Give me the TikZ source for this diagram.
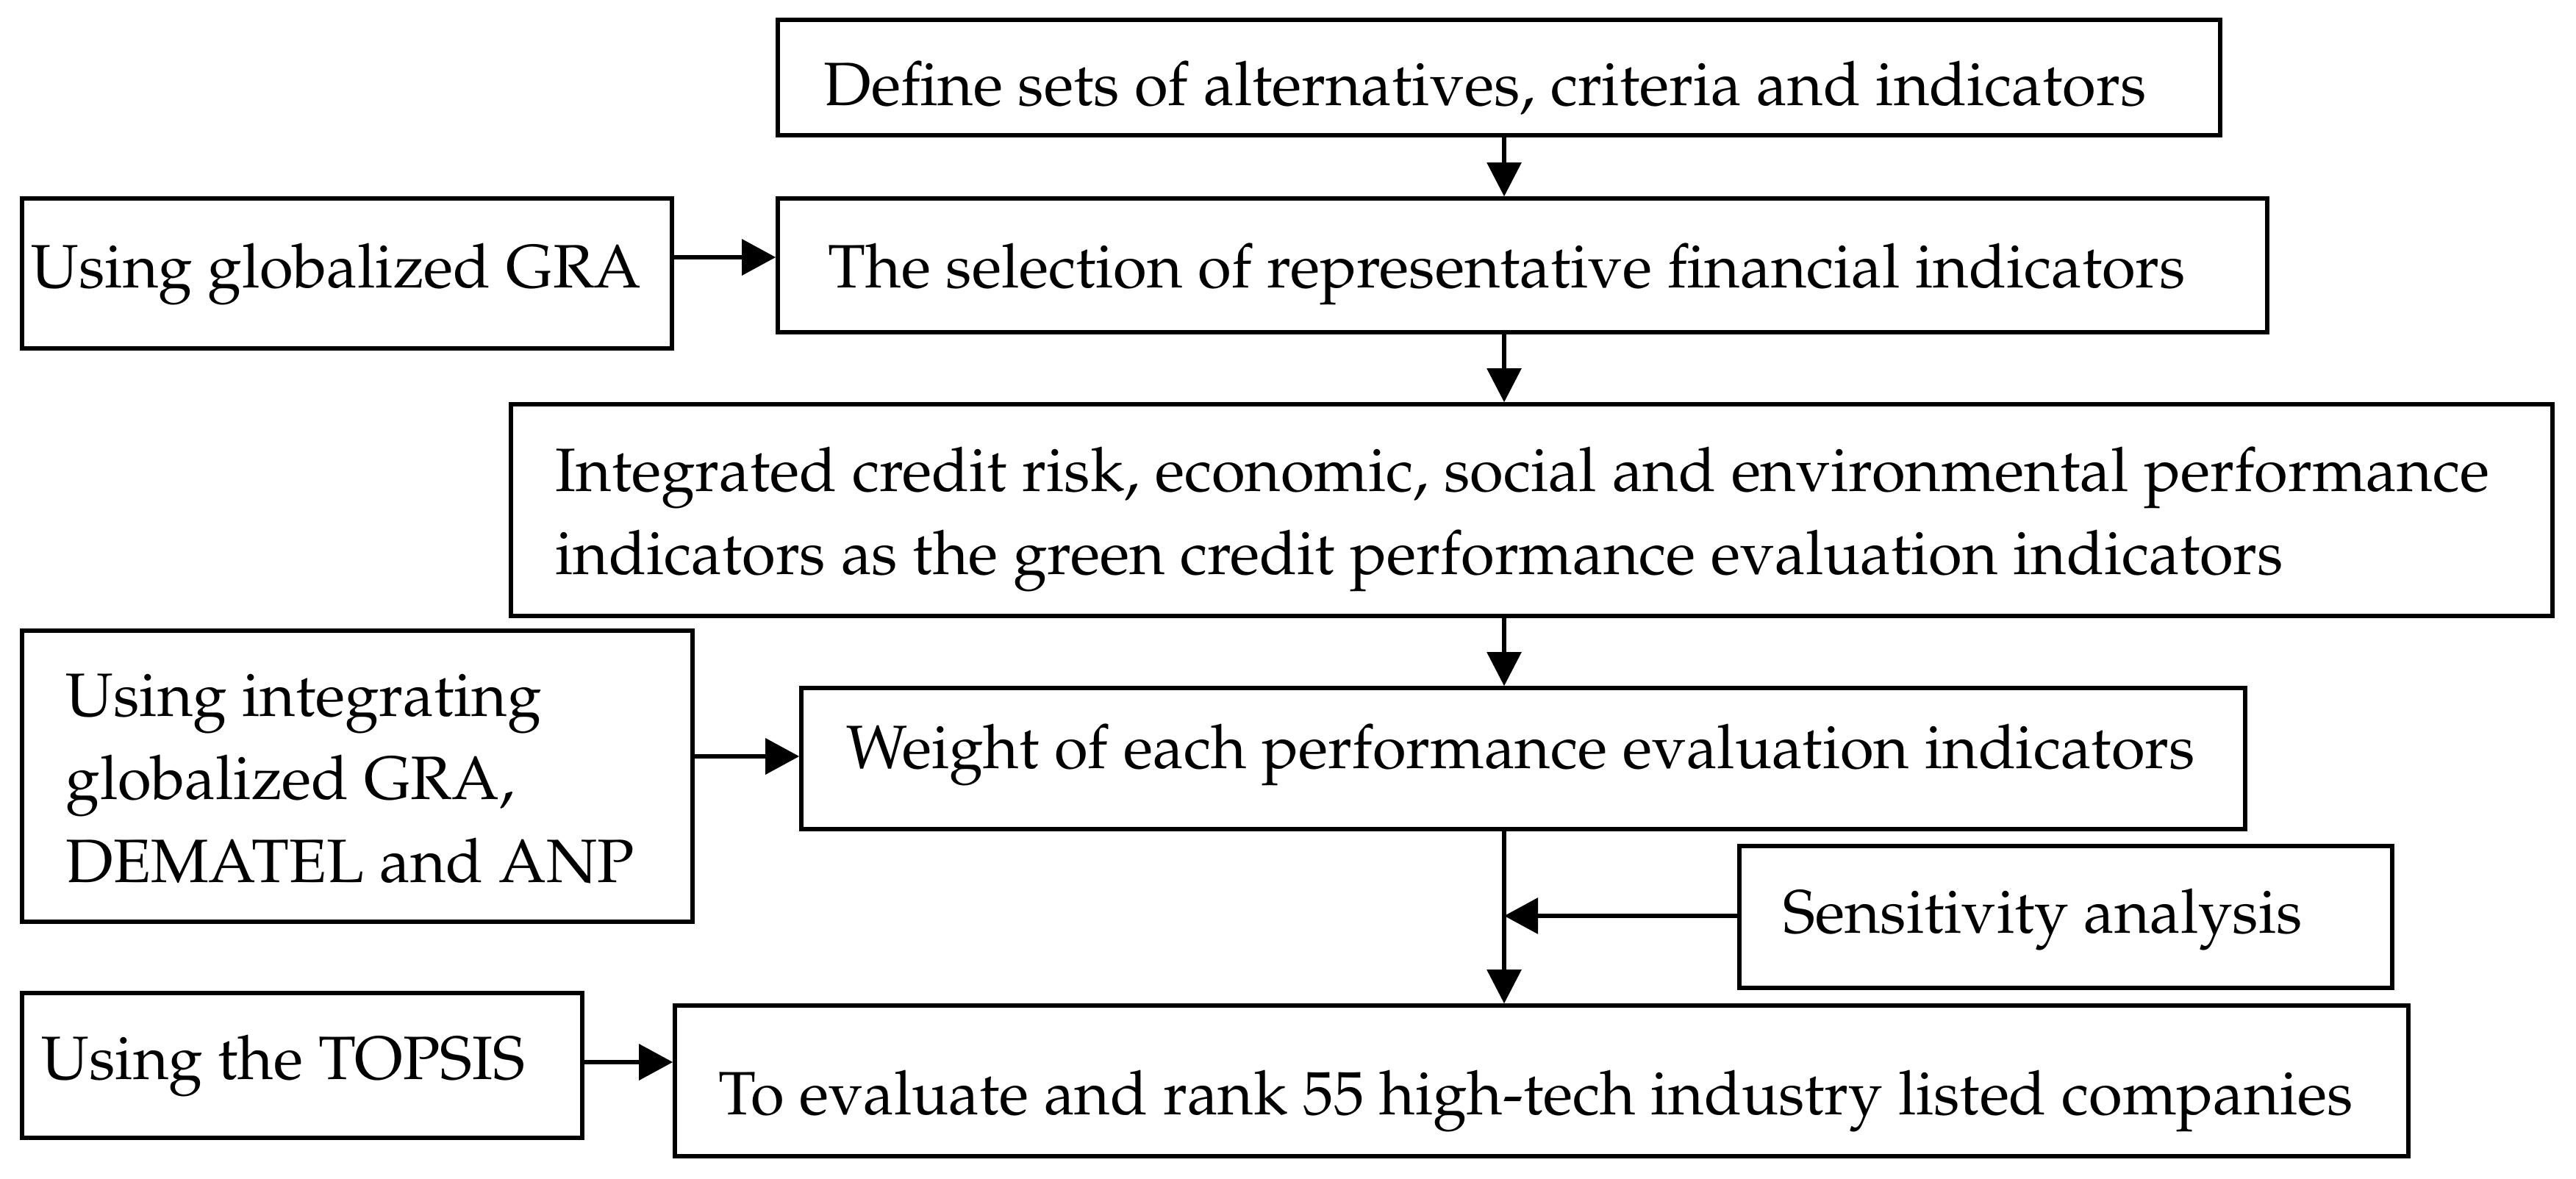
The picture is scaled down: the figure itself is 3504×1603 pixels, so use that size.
\documentclass[tikz,border=0pt]{standalone}
\usepackage[T1]{fontenc}
\usepackage{mathpazo}
\usetikzlibrary{arrows.meta}
\tikzset{
  boxnode/.style={draw, line width=0.055cm, inner sep=0pt},
  txt/.style={anchor=base west, inner sep=0pt, align=left, font=\fontsize{23.7}{32.1}\selectfont},
  arr/.style={line width=0.065cm, -{Triangle[length=0.46cm,width=0.48cm]}},
  varr/.style={line width=0.055cm, -{Triangle[length=0.46cm,width=0.46cm]}},
}
\newcommand{\boxat}[5]{% name, left, top, right, bottom
  \node[boxnode, minimum width={(#4-#2)*0.01cm}, minimum height={(#5-#3)*0.01cm}] (#1) at ({(#2+#4)/2},{(#3+#5)/2}) {};}
\begin{document}
\begin{tikzpicture}[x=0.01cm,y=-0.01cm]
\useasboundingbox (0,0) rectangle (3504,1603);
% boxes
\boxat{def}{1058}{27}{3020}{184}
\boxat{sel}{1058}{270}{3084}{452}
\boxat{gra}{30}{270}{914}{474}
\boxat{integ}{695}{550}{3472}{838}
\boxat{weight}{1090}{936}{3054}{1128}
\boxat{anp}{30}{858}{942}{1254}
\boxat{sens}{2366}{1151}{3254}{1344}
\boxat{topsis}{30}{1351}{792}{1548}
\boxat{final}{918}{1368}{3276}{1573}
% texts (multi-line texts are anchored at the baseline of their last line)
\node[txt] (deft) at (1120,144) {Define sets of alternatives, criteria and indicators};
\node[txt] (selt) at (1126,391) {The selection of representative financial indicators};
\node[txt] (grat) at (42,391) {Using globalized GRA};
\node[txt] (integt) at (755,781) {Integrated credit risk, economic, social and environmental performance\\indicators as the green credit performance evaluation indicators};
\node[txt] (weightt) at (1151,1045) {Weight of each performance evaluation indicators};
\node[txt] (anpt) at (89,1200) {Using integrating\\globalized GRA,\\DEMATEL and ANP};
\node[txt] (senst) at (2425,1269) {Sensitivity analysis};
\node[txt] (topsist) at (56,1468) {Using the TOPSIS};
\node[txt] (finalt) at (977,1516) {To evaluate and rank 55 high-tech industry listed companies};
% connectors
\coordinate (ax) at (2046,0);
\coordinate (ya) at (0,350);
\coordinate (yb) at (0,1029);
\coordinate (yc) at (0,1246);
\coordinate (yd) at (0,1445);
\coordinate (join) at (2046,1246);
\draw[varr] (def.south -| ax) -- (sel.north -| ax);
\draw[varr] (sel.south -| ax) -- (integ.north -| ax);
\draw[varr] (integ.south -| ax) -- (weight.north -| ax);
\draw[varr] (weight.south -| ax) -- (final.north -| ax);
\draw[arr] (gra.east |- ya) -- (sel.west |- ya);
\draw[arr] (anp.east |- yb) -- (weight.west |- yb);
\draw[arr] (sens.west |- yc) -- (join);
\draw[arr] (topsis.east |- yd) -- (final.west |- yd);
\end{tikzpicture}
\end{document}
